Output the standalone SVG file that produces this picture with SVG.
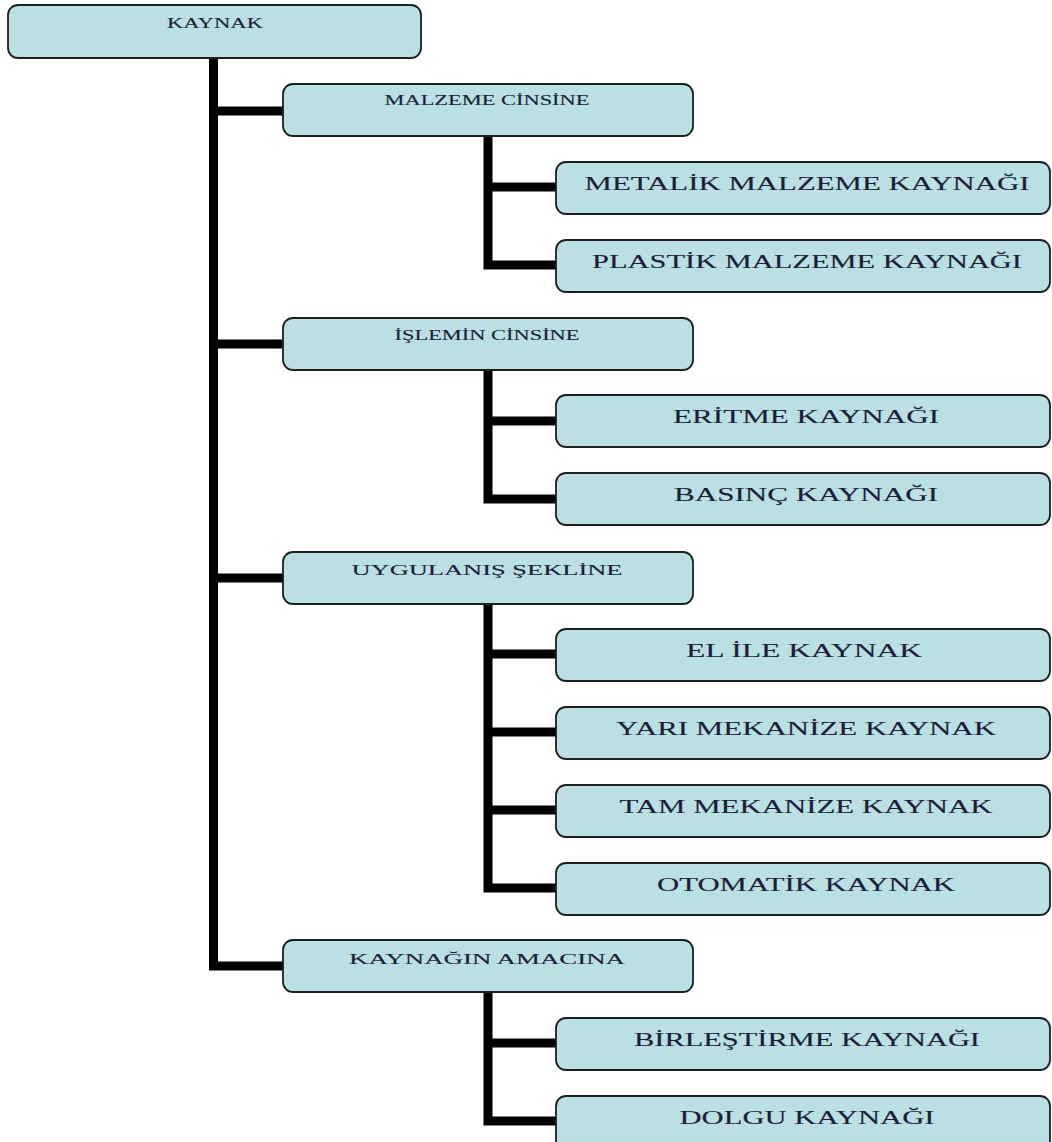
<svg xmlns="http://www.w3.org/2000/svg" width="1052" height="1142" viewBox="0 0 1052 1142">
<style>
.box{fill:#bae0e3;stroke:#1e1e1e;stroke-width:1.8}
.t0,.t1,.t2{font-family:"Liberation Serif","Times New Roman",serif;fill:#1b1e38;stroke:#1b1e38;stroke-width:0.12;text-anchor:middle}
.t0{font-size:15px}
.t1{font-size:15px}
.t2{font-size:18px}
.con{fill:none;stroke:#000;stroke-width:9;stroke-linejoin:miter}
</style>
<rect width="1052" height="1142" fill="#fff"/>
<g id="connectors">
<path class="con" d="M213.5 58 V966 H283"/>
<path class="con" d="M213 111 H283 M213 344 H283 M213 578 H283"/>
<path class="con" d="M488 136 V265 H556 M488 187 H556"/>
<path class="con" d="M488 370 V499 H556 M488 421 H556"/>
<path class="con" d="M488 603 V888 H556 M488 654 H556 M488 732 H556 M488 810 H556"/>
<path class="con" d="M488 992 V1121 H556 M488 1043 H556"/>
</g>
<g id="n-kaynak"><rect class="box" x="8" y="5" width="413" height="53" rx="10"/><text class="t0" x="215" y="28" textLength="96" lengthAdjust="spacingAndGlyphs">KAYNAK</text></g>
<g id="n-malzeme"><rect class="box" x="283" y="84" width="410" height="52" rx="10"/><text class="t1" x="487" y="105" textLength="205" lengthAdjust="spacingAndGlyphs">MALZEME CİNSİNE</text></g>
<g id="n-metalik"><rect class="box" x="556" y="162" width="494" height="52" rx="10"/><text class="t2" x="807" y="190" textLength="445" lengthAdjust="spacingAndGlyphs">METALİK MALZEME KAYNAĞI</text></g>
<g id="n-plastik"><rect class="box" x="556" y="240" width="494" height="52" rx="10"/><text class="t2" x="807" y="268" textLength="430" lengthAdjust="spacingAndGlyphs">PLASTİK MALZEME KAYNAĞI</text></g>
<g id="n-islemin"><rect class="box" x="283" y="318" width="410" height="52" rx="10"/><text class="t1" x="487" y="340" textLength="185" lengthAdjust="spacingAndGlyphs">İŞLEMİN CİNSİNE</text></g>
<g id="n-eritme"><rect class="box" x="556" y="395" width="494" height="52" rx="10"/><text class="t2" x="806" y="423" textLength="266" lengthAdjust="spacingAndGlyphs">ERİTME KAYNAĞI</text></g>
<g id="n-basinc"><rect class="box" x="556" y="473" width="494" height="52" rx="10"/><text class="t2" x="806" y="501" textLength="264" lengthAdjust="spacingAndGlyphs">BASINÇ KAYNAĞI</text></g>
<g id="n-uygulanis"><rect class="box" x="283" y="552" width="410" height="52" rx="10"/><text class="t1" x="487" y="575" textLength="271" lengthAdjust="spacingAndGlyphs">UYGULANIŞ ŞEKLİNE</text></g>
<g id="n-elile"><rect class="box" x="556" y="629" width="494" height="52" rx="10"/><text class="t2" x="804" y="657" textLength="236" lengthAdjust="spacingAndGlyphs">EL İLE KAYNAK</text></g>
<g id="n-yari"><rect class="box" x="556" y="707" width="494" height="52" rx="10"/><text class="t2" x="806" y="735" textLength="380" lengthAdjust="spacingAndGlyphs">YARI MEKANİZE KAYNAK</text></g>
<g id="n-tam"><rect class="box" x="556" y="785" width="494" height="52" rx="10"/><text class="t2" x="806" y="813" textLength="373" lengthAdjust="spacingAndGlyphs">TAM MEKANİZE KAYNAK</text></g>
<g id="n-otomatik"><rect class="box" x="556" y="863" width="494" height="52" rx="10"/><text class="t2" x="806" y="891" textLength="298" lengthAdjust="spacingAndGlyphs">OTOMATİK KAYNAK</text></g>
<g id="n-amacina"><rect class="box" x="283" y="940" width="410" height="52" rx="10"/><text class="t1" x="487" y="964" textLength="276" lengthAdjust="spacingAndGlyphs">KAYNAĞIN AMACINA</text></g>
<g id="n-birlestirme"><rect class="box" x="556" y="1018" width="494" height="52" rx="10"/><text class="t2" x="807" y="1046" textLength="346" lengthAdjust="spacingAndGlyphs">BİRLEŞTİRME KAYNAĞI</text></g>
<g id="n-dolgu"><rect class="box" x="556" y="1096" width="494" height="60" rx="10"/><text class="t2" x="807" y="1124" textLength="255" lengthAdjust="spacingAndGlyphs">DOLGU KAYNAĞI</text></g>
</svg>
